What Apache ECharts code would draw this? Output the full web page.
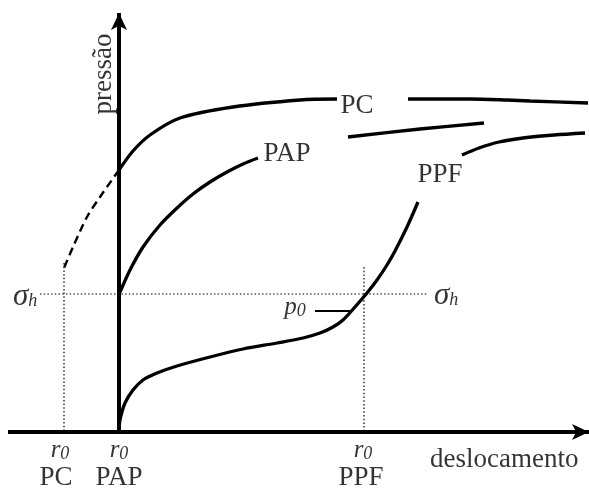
<!DOCTYPE html>
<html><head><meta charset="utf-8">
<script src="https://cdn.jsdelivr.net/npm/echarts@6/dist/echarts.min.js"></script>
<style>html,body{margin:0;padding:0;background:#fff}#c{width:589px;height:490px}</style>
</head><body><div id="c"></div>
<script>
// data coordinates: origin at r0 PAP on the displacement axis
const pcSolidA = [[0,262],[14,281],[31,297],[61,314],[114,325],[181,332],[218,333]];
const pcSolidB = [[289,333],[351,333],[388,332],[411,331],[469,329]];
const pcDashed = [[0,262],[-19,235],[-32,215],[-46,185],[-55,164]];
const papA = [[0,138],[1,140],[11,162],[24,185],[41,207],[58,224],[74,238],[91,250],[108,260],[124,268],[139,274]];
const papB = [[229,295],[301,303],[365,309]];
const ppfA = [[0,0],[1,12],[6,29],[14,42],[24,52],[38,59],[58,66],[91,75],[124,83],[158,89],[184,94],[201,99],[214,105],[224,112],[236,125],[248,139],[258,152],[268,167],[276,181],[288,205],[299,230]];
const ppfB = [[343,277],[360,284],[380,290],[404,294],[435,297],[466,299]];
const sigmaH = 138;
const r0Pos = [-55, 0, 245];
const xAxisEnds = [[-111,0],[470,0]];
const yAxisEnds = [[0,0],[0,419]];
const p0Leader = [[196,121],[231,121]];
const vDotTops = [169, 165];
const sigmaLineEnds = [-79, 309];

const curveLabels = [[238,326,'PC'],[168,278,'PAP'],[321,257,'PPF']];
const bottomLabels = [[-63,-46,'PC'],[0,-46,'PAP'],[242,-46,'PPF']];
const r0Labels = [[-59,-18],[0,-18],[244,-18]];
const sigmaLabels = [[-106,135],[315,136]];
const p0Label = [176,125];
const xName = [311,-28,'deslocamento'];
const yName = [-15,358,'pressão'];

const FONT = 'Liberation Serif, Times New Roman, serif';
const chart = echarts.init(document.getElementById('c'));

function line(data, opts) {
  return Object.assign({type:'line', data, symbol:'none', smooth:0.3, silent:true,
    lineStyle:{color:'#000', width:3.3}, animation:false}, opts||{});
}
function textSeries(items, label) {
  return {type:'scatter', symbolSize:0, silent:true, animation:false,
    data: items.map(it => ({value:[it[0],it[1]], label:Object.assign({show:true, formatter: it[2] !== undefined ? it[2] : ''}, label)})),
    label: {show:true}};
}
const rich = {
  i:{fontFamily:FONT, fontStyle:'italic', fontSize:25, color:'#000'},
  g:{fontFamily:FONT, fontStyle:'italic', fontSize:31, color:'#000'},
  s:{fontFamily:FONT, fontStyle:'italic', fontSize:18, color:'#000', padding:[9,0,0,0]}
};
const dotted = {color:'#000', width:1.2, type:[1.5,2.2]};

chart.setOption({
  animation:false,
  grid:{left:0,right:0,top:0,bottom:0},
  xAxis:{type:'value', min:-119, max:470, show:false},
  yAxis:{type:'value', min:-58, max:432, show:false},
  series:[
    // dotted guides
    line([[sigmaLineEnds[0],sigmaH],[sigmaLineEnds[1],sigmaH]], {smooth:false, lineStyle:dotted}),
    line([[r0Pos[0],vDotTops[0]],[r0Pos[0],0]], {smooth:false, lineStyle:dotted}),
    line([[r0Pos[2],vDotTops[1]],[r0Pos[2],0]], {smooth:false, lineStyle:dotted}),
    // curves
    line(pcSolidA), line(pcSolidB), line(papA), line(papB), line(ppfA), line(ppfB),
    line(pcDashed, {lineStyle:{color:'#000', width:2.4, type:[8,5]}}),
    line(p0Leader, {smooth:false, lineStyle:{color:'#000', width:2.2}}),
    // axes with arrows
    {type:'line', data:[], silent:true, animation:false,
      markLine:{silent:true, symbol:['none','arrow'], symbolSize:[12,17], label:{show:false},
        lineStyle:{color:'#000', width:4, type:'solid'},
        data:[[{coord:xAxisEnds[0]},{coord:xAxisEnds[1]}],[{coord:yAxisEnds[0]},{coord:yAxisEnds[1]}]]}},
    // texts
    textSeries(curveLabels, {position:'inside', fontFamily:FONT, fontSize:27, color:'#000'}),
    textSeries(bottomLabels, {position:'inside', fontFamily:FONT, fontSize:27, color:'#000'}),
    textSeries(r0Labels.map(p=>[p[0],p[1],'{i|r}{s|0}']), {position:'inside', rich}),
    textSeries(sigmaLabels.map(p=>[p[0],p[1],'{g|σ}{s|h}']), {position:'right', distance:0, rich}),
    textSeries([[p0Label[0],p0Label[1],'{i|p}{s|0}']], {position:'inside', rich}),
    textSeries([xName], {position:'right', distance:0, fontFamily:FONT, fontSize:27, color:'#000'}),
    textSeries([yName], {position:'inside', rotate:90, fontFamily:FONT, fontSize:27, color:'#000'})
  ]
});
</script></body></html>
